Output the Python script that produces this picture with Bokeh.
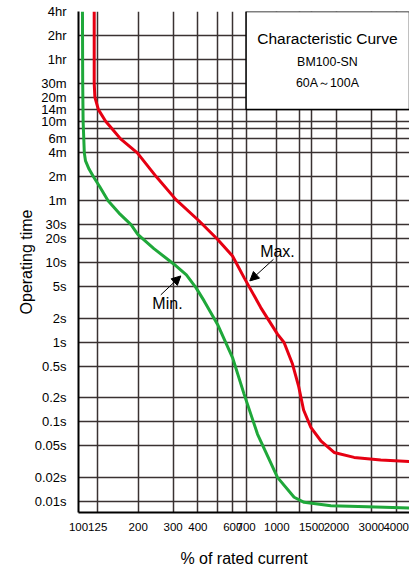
from bokeh.plotting import figure
from bokeh.models import FixedTicker, Label, Arrow, NormalHead, Range1d, BoxAnnotation
from bokeh.embed import file_html
from bokeh.resources import INLINE

FONT = "Liberation Sans"

# ---- data ----
x_ticks = [100, 125, 200, 300, 400, 500, 600, 700, 1000, 1300, 1500, 2000, 3000, 4000]
x_labels = ["100", "125", "200", "300", "400", "", "600", "700", "1000", "", "1500", "2000", "3000", "4000"]

y_ticks = [0.01, 0.02, 0.05, 0.1, 0.2, 0.5, 1, 2, 5, 10, 20, 30, 60, 120, 240, 360, 480,
           600, 840, 1200, 1800, 3600, 7200, 14400]
y_labels = ["0.01s", "0.02s", "0.05s", "0.1s", "0.2s", "0.5s", "1s", "2s", "5s", "10s", "20s",
            "30s", "1m", "2m", "4m", "6m", "", "10m", "14m", "20m", "30m", "1hr", "2hr", "4hr"]

max_current = [120, 120, 121, 126, 137, 148, 163, 198, 247, 310, 406, 502, 598, 684, 830,
               1008, 1088, 1200, 1290, 1365, 1485, 1667, 1945, 2454, 3346, 4685]
max_time = [14400, 1800, 1200, 840, 600, 480, 360, 240, 120, 62, 33.4, 19.7, 12.1, 6.48, 2.72,
            1.26, 0.99, 0.53, 0.275, 0.14, 0.0846, 0.0575, 0.041, 0.0355, 0.033, 0.0316]

min_current = [104.7, 105, 105.5, 107, 108.5, 113, 119, 128, 141, 160, 184, 199, 240, 303, 350,
               391, 430, 502, 598, 684, 799, 1008, 1223, 1373, 1873, 2866, 4685]
min_time = [14400, 1800, 600, 240, 190, 150, 120, 90, 60, 42, 30, 22.7, 15, 9.55, 7,
            4.85, 3.3, 1.68, 0.64, 0.222, 0.0699, 0.0199, 0.0112, 0.00966, 0.00878, 0.00853, 0.00822]

X_START, X_END = 100, 4669
Y_START, Y_END = 0.0072, 14400

p = figure(width=409, height=572, x_axis_type="log", y_axis_type="log",
           x_range=Range1d(X_START, X_END), y_range=Range1d(Y_START, Y_END),
           output_backend="svg", toolbar_location=None,
           min_border_left=78, min_border_right=0, min_border_top=11, min_border_bottom=60)

p.background_fill_color = "white"
p.border_fill_color = "white"
p.outline_line_color = None

# ticks / grid
p.xaxis.ticker = FixedTicker(ticks=x_ticks)
p.yaxis.ticker = FixedTicker(ticks=y_ticks)
p.xgrid.ticker = FixedTicker(ticks=x_ticks)
p.ygrid.ticker = FixedTicker(ticks=y_ticks)
p.xaxis.major_label_overrides = {float(t): l for t, l in zip(x_ticks, x_labels)}
p.yaxis.major_label_overrides = {float(t): l for t, l in zip(y_ticks, y_labels)}

p.grid.grid_line_color = "#3a3232"
p.grid.grid_line_width = 1.5
p.grid.grid_line_alpha = 1.0

p.axis.axis_line_color = "black"
p.axis.axis_line_width = 2
p.axis.major_tick_line_color = None
p.axis.minor_tick_line_color = None
p.axis.major_label_text_font = FONT
p.axis.major_label_text_color = "black"
p.yaxis.major_label_text_font_size = "13px"
p.xaxis.major_label_text_font_size = "11.5px"
p.yaxis.major_label_standoff = 6
p.xaxis.major_label_standoff = 4

p.xaxis.axis_label = "% of rated current"
p.yaxis.axis_label = "Operating time"
p.axis.axis_label_text_font = FONT
p.axis.axis_label_text_font_style = "normal"
p.axis.axis_label_text_font_size = "16px"
p.axis.axis_label_text_color = "black"
p.xaxis.axis_label_standoff = 16
p.yaxis.axis_label_standoff = -3

# curves
p.line(max_current, max_time, line_color="#e60012", line_width=3)
p.line(min_current, min_time, line_color="#1fa83a", line_width=3)

# title box
p.add_layout(BoxAnnotation(left=700, right=X_END, bottom=840, top=Y_END, fill_color="white",
                           fill_alpha=1.0, line_color="black", line_width=1.5, line_alpha=1.0))
p.add_layout(Label(x=1800, y=6600, text="Characteristic Curve", text_align="center",
                   text_baseline="middle", text_font=FONT, text_font_size="15.5px",
                   text_color="black"))
p.add_layout(Label(x=1800, y=3300, text="BM100-SN", text_align="center",
                   text_baseline="middle", text_font=FONT, text_font_size="12.4px",
                   text_color="black"))
p.add_layout(Label(x=1800, y=1800, text="60A～100A", text_align="center",
                   text_baseline="middle", text_font=FONT, text_font_size="12.4px",
                   text_color="black"))

# annotations
p.add_layout(Arrow(end=NormalHead(size=9, fill_color="black", line_color="black"),
                   x_start=260, y_start=3.93, x_end=328, y_end=6.8,
                   line_color="black", line_width=1))
p.add_layout(Label(x=281, y=3.05, text="Min.", text_align="center", text_baseline="middle",
                   text_font=FONT, text_font_size="16px", text_color="black"))
p.add_layout(Arrow(end=NormalHead(size=9, fill_color="black", line_color="black"),
                   x_start=962, y_start=11.0, x_end=731, y_end=5.89,
                   line_color="black", line_width=1))
p.add_layout(Label(x=1008, y=13.7, text="Max.", text_align="center", text_baseline="middle",
                   text_font=FONT, text_font_size="16px", text_color="black"))

open("out.html", "w").write(file_html(p, INLINE))
